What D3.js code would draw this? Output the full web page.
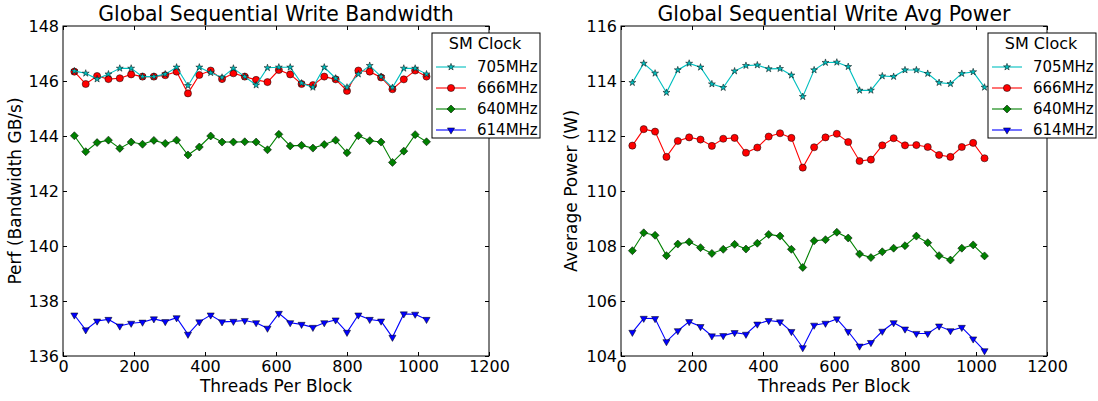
<!DOCTYPE html>
<html>
<head>
	<title></title>
	<style type="text/css">
		body {
			margin: 0;
			background-color: #fff;
		}
		svg text {
			font-family: "DejaVu Sans", sans-serif;
			fill: #000;
		}
	</style>
</head>
<body>
	<svg class="viz" width="1098" height="401"></svg>

	<script src="https://d3js.org/d3.v7.min.js" charset="utf-8"></script>
	<script type="text/javascript">

		// threads per block (x values shared by both panels)
		var threads = [32, 64, 96, 128, 160, 192, 224, 256, 288, 320, 352, 384, 416, 448, 480, 512,
			544, 576, 608, 640, 672, 704, 736, 768, 800, 832, 864, 896, 928, 960, 992, 1024];

		var clocks = ['705MHz', '666MHz', '640MHz', '614MHz'];

		// bandwidth (GB/s) per SM clock
		var bw705 = [146.36, 146.28, 146.07, 146.25, 146.46, 146.46, 146.16, 146.16, 146.25, 146.50, 145.83, 146.50, 146.30, 146.13, 146.46, 146.16,
			145.85, 146.48, 146.50, 146.50, 145.92, 145.77, 146.50, 146.10, 145.77, 146.25, 146.56, 146.16, 145.76, 146.46, 146.46, 146.25];
		var bw666 = [146.34, 145.89, 146.18, 146.07, 146.10, 146.24, 146.16, 146.16, 146.21, 146.34, 145.55, 146.22, 146.38, 146.07, 146.28, 146.16,
			146.04, 145.96, 146.40, 146.24, 145.89, 145.85, 146.16, 146.06, 145.64, 146.38, 146.34, 146.13, 145.70, 146.06, 146.38, 146.16];
		var bw640 = [144.01, 143.43, 143.76, 143.85, 143.55, 143.78, 143.70, 143.84, 143.73, 143.85, 143.31, 143.60, 144.00, 143.78, 143.78, 143.79,
			143.78, 143.50, 144.06, 143.64, 143.66, 143.56, 143.69, 143.85, 143.39, 144.01, 143.83, 143.78, 143.04, 143.45, 144.05, 143.79];
		var bw614 = [137.49, 136.95, 137.27, 137.33, 137.09, 137.19, 137.23, 137.35, 137.25, 137.39, 136.79, 137.24, 137.49, 137.24, 137.26, 137.29,
			137.21, 137.01, 137.55, 137.21, 137.15, 137.04, 137.21, 137.31, 136.86, 137.49, 137.33, 137.27, 136.68, 137.53, 137.52, 137.33];

		// average power (W) per SM clock
		var pw705 = [113.94, 114.64, 114.28, 113.58, 114.40, 114.64, 114.50, 113.89, 113.76, 114.36, 114.56, 114.58, 114.44, 114.45, 114.21, 113.43,
			114.40, 114.67, 114.68, 114.52, 113.66, 113.66, 114.18, 114.16, 114.40, 114.40, 114.27, 113.94, 113.90, 114.27, 114.33, 113.77];
		var pw666 = [111.65, 112.25, 112.16, 111.24, 111.82, 111.95, 111.87, 111.64, 111.90, 111.93, 111.39, 111.58, 111.98, 112.10, 111.93, 110.85,
			111.59, 111.95, 112.08, 111.78, 111.09, 111.14, 111.66, 111.92, 111.66, 111.67, 111.60, 111.31, 111.24, 111.60, 111.75, 111.19];
		var pw640 = [107.83, 108.48, 108.39, 107.65, 108.07, 108.15, 107.94, 107.73, 107.88, 108.06, 107.89, 108.10, 108.42, 108.36, 107.88, 107.22,
			108.19, 108.23, 108.50, 108.29, 107.71, 107.58, 107.79, 107.92, 108.01, 108.36, 108.12, 107.65, 107.49, 107.92, 108.04, 107.64];
		var pw614 = [104.86, 105.37, 105.36, 104.52, 104.92, 105.25, 105.07, 104.73, 104.74, 104.85, 104.79, 105.16, 105.29, 105.24, 104.89, 104.30,
			105.12, 105.19, 105.35, 104.89, 104.36, 104.49, 104.90, 105.21, 104.98, 104.82, 104.82, 105.09, 104.92, 105.04, 104.62, 104.19];

		var xTicks = [0, 200, 400, 600, 800, 1000, 1200];
		var bwTicks = [136, 138, 140, 142, 144, 146, 148];
		var pwTicks = [104, 106, 108, 110, 112, 114, 116];

		// look of each series, same order as clocks
		var styles = [
			{ color: '#00bfbf', symbol: d3.symbolStar, size: 15, rotate: 0 },
			{ color: '#ff0000', symbol: d3.symbolCircle, size: 40, rotate: 0 },
			{ color: '#008000', symbol: d3.symbolSquare, size: 32, rotate: 45 },
			{ color: '#0000ff', symbol: d3.symbolTriangle, size: 22, rotate: 180 }
		];

		var canvas = d3.select('.viz');

		var drawMarker = function(sel, st) {
			sel.append('path')
				.attr('d', d3.symbol().type(st.symbol).size(st.size)())
				.attr('transform', 'rotate(' + st.rotate + ')')
				.attr('fill', st.color)
				.attr('stroke', '#000')
				.attr('stroke-width', 0.5);
		};

		var drawPanel = function(p) {
			var g = canvas.append('g');

			var x = d3.scaleLinear().domain([0, 1200]).range([p.left, p.right]);
			var y = d3.scaleLinear().domain([p.ticks[0], p.ticks[p.ticks.length - 1]]).range([p.bottom, p.top]);

			// axes with inward ticks on all four sides
			g.append('g')
				.attr('transform', 'translate(0,' + p.bottom + ')')
				.call(d3.axisBottom(x).tickValues(xTicks).tickFormat(d3.format('d'))
					.tickSizeInner(-4).tickSizeOuter(0).tickPadding(5));
			g.append('g')
				.attr('transform', 'translate(' + p.left + ',0)')
				.call(d3.axisLeft(y).tickValues(p.ticks).tickFormat(d3.format('d'))
					.tickSizeInner(-4).tickSizeOuter(0).tickPadding(4));
			g.append('g')
				.attr('transform', 'translate(0,' + p.top + ')')
				.call(d3.axisTop(x).tickValues(xTicks).tickSizeInner(-4).tickSizeOuter(0).tickFormat(''));
			g.append('g')
				.attr('transform', 'translate(' + p.right + ',0)')
				.call(d3.axisRight(y).tickValues(p.ticks).tickSizeInner(-4).tickSizeOuter(0).tickFormat(''));

			g.selectAll('.domain').remove();
			g.selectAll('.tick line').attr('stroke', '#000');
			g.selectAll('.tick text').style('font-size', '16px').attr('fill', '#000');

			g.append('rect')
				.attr('x', p.left)
				.attr('y', p.top)
				.attr('width', p.right - p.left)
				.attr('height', p.bottom - p.top)
				.attr('fill', 'none')
				.attr('stroke', '#000')
				.attr('stroke-width', 1);

			// series, drawn last-to-first so the 705MHz stars sit on top
			var line = d3.line()
				.x(function(d, i) { return x(threads[i]); })
				.y(function(d) { return y(d); });

			for (var s = p.series.length - 1; s >= 0; s--) {
				var st = styles[s];
				g.append('path')
					.datum(p.series[s])
					.attr('d', line)
					.attr('fill', 'none')
					.attr('stroke', st.color)
					.attr('stroke-width', 1.1);

				var pts = g.append('g').selectAll('g').data(p.series[s])
					.enter().append('g')
						.attr('transform', function(d, i) {
							return 'translate(' + x(threads[i]) + ',' + y(d) + ')';
						});
				drawMarker(pts, st);
			}

			// titles and labels
			g.append('text')
				.attr('x', (p.left + p.right) / 2)
				.attr('y', 21)
				.attr('text-anchor', 'middle')
				.style('font-size', '20.4px')
				.text(p.title);

			g.append('text')
				.attr('x', (p.left + p.right) / 2)
				.attr('y', 392)
				.attr('text-anchor', 'middle')
				.style('font-size', '17px')
				.text('Threads Per Block');

			g.append('text')
				.attr('transform', 'translate(' + p.ylabelX + ',' + ((p.top + p.bottom) / 2) + ') rotate(-90)')
				.attr('text-anchor', 'middle')
				.style('font-size', '17px')
				.text(p.ylabel);

			// legend
			var lg = g.append('g').attr('transform', 'translate(' + p.legendX + ',33)');
			lg.append('rect')
				.attr('width', 108)
				.attr('height', 105)
				.attr('fill', '#fff')
				.attr('stroke', '#000')
				.attr('stroke-width', 1);
			lg.append('text')
				.attr('x', 53)
				.attr('y', 16)
				.attr('text-anchor', 'middle')
				.style('font-size', '16px')
				.text('SM Clock');

			var items = lg.selectAll('.item').data(clocks)
				.enter().append('g')
					.attr('class', 'item')
					.attr('transform', function(d, i) {
						return 'translate(0,' + (34 + i * 21) + ')';
					});
			items.append('line')
				.attr('x1', 4)
				.attr('x2', 34)
				.attr('stroke', function(d, i) { return styles[i].color; })
				.attr('stroke-width', 1.1);
			items.each(function(d, i) {
				var m = d3.select(this).append('g').attr('transform', 'translate(19,0)');
				drawMarker(m, styles[i]);
			});
			items.append('text')
				.attr('x', 45)
				.attr('dy', '0.36em')
				.style('font-size', '15px')
				.text(function(d) { return d; });
		};

		drawPanel({
			left: 63, right: 489, top: 26, bottom: 356,
			ticks: bwTicks,
			series: [bw705, bw666, bw640, bw614],
			title: 'Global Sequential Write Bandwidth',
			ylabel: 'Perf (Bandwidth GB/s)',
			ylabelX: 21,
			legendX: 432
		});

		drawPanel({
			left: 621, right: 1047, top: 26, bottom: 356,
			ticks: pwTicks,
			series: [pw705, pw666, pw640, pw614],
			title: 'Global Sequential Write Avg Power',
			ylabel: 'Average Power (W)',
			ylabelX: 577,
			legendX: 988
		});

	</script>
</body>
</html>
